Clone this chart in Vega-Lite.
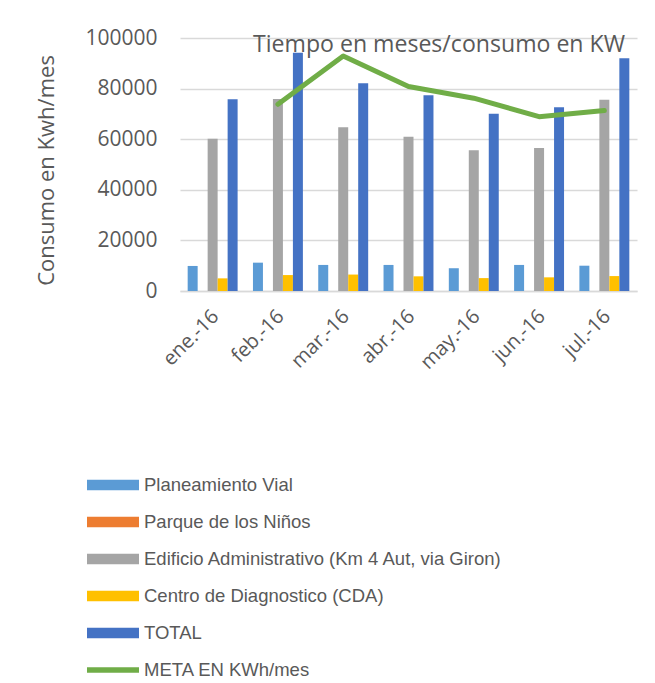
{
  "$schema": "https://vega.github.io/schema/vega-lite/v6.json",
  "autosize": {"type": "none"},
  "width": 457,
  "height": 253,
  "padding": {"left": 180, "top": 38, "right": 18, "bottom": 392},
  "background": "white",
  "config": {"view": {"stroke": null}, "font": "Open Sans"},
  "title": {"text": "Tiempo en meses/consumo en KW", "anchor": "end", "frame": "group", "offset": -30, "dx": -12, "fontSize": 23.1, "font": "Open Sans", "fontWeight": "normal", "color": "#595959"},
  "data": {"values": [
    {"mes": "ene.-16", "serie": "Planeamiento Vial", "valor": 9900},
    {"mes": "ene.-16", "serie": "Parque de los Niños", "valor": 0},
    {"mes": "ene.-16", "serie": "Edificio Administrativo (Km 4 Aut, via Giron)", "valor": 60200},
    {"mes": "ene.-16", "serie": "Centro de Diagnostico (CDA)", "valor": 5000},
    {"mes": "ene.-16", "serie": "TOTAL", "valor": 75800},
    {"mes": "feb.-16", "serie": "Planeamiento Vial", "valor": 11200},
    {"mes": "feb.-16", "serie": "Parque de los Niños", "valor": 0},
    {"mes": "feb.-16", "serie": "Edificio Administrativo (Km 4 Aut, via Giron)", "valor": 75900},
    {"mes": "feb.-16", "serie": "Centro de Diagnostico (CDA)", "valor": 6300},
    {"mes": "feb.-16", "serie": "TOTAL", "valor": 94200},
    {"mes": "mar.-16", "serie": "Planeamiento Vial", "valor": 10300},
    {"mes": "mar.-16", "serie": "Parque de los Niños", "valor": 0},
    {"mes": "mar.-16", "serie": "Edificio Administrativo (Km 4 Aut, via Giron)", "valor": 64700},
    {"mes": "mar.-16", "serie": "Centro de Diagnostico (CDA)", "valor": 6500},
    {"mes": "mar.-16", "serie": "TOTAL", "valor": 82100},
    {"mes": "abr.-16", "serie": "Planeamiento Vial", "valor": 10300},
    {"mes": "abr.-16", "serie": "Parque de los Niños", "valor": 0},
    {"mes": "abr.-16", "serie": "Edificio Administrativo (Km 4 Aut, via Giron)", "valor": 61000},
    {"mes": "abr.-16", "serie": "Centro de Diagnostico (CDA)", "valor": 5800},
    {"mes": "abr.-16", "serie": "TOTAL", "valor": 77400},
    {"mes": "may.-16", "serie": "Planeamiento Vial", "valor": 9000},
    {"mes": "may.-16", "serie": "Parque de los Niños", "valor": 0},
    {"mes": "may.-16", "serie": "Edificio Administrativo (Km 4 Aut, via Giron)", "valor": 55600},
    {"mes": "may.-16", "serie": "Centro de Diagnostico (CDA)", "valor": 5100},
    {"mes": "may.-16", "serie": "TOTAL", "valor": 70100},
    {"mes": "jun.-16", "serie": "Planeamiento Vial", "valor": 10300},
    {"mes": "jun.-16", "serie": "Parque de los Niños", "valor": 0},
    {"mes": "jun.-16", "serie": "Edificio Administrativo (Km 4 Aut, via Giron)", "valor": 56500},
    {"mes": "jun.-16", "serie": "Centro de Diagnostico (CDA)", "valor": 5400},
    {"mes": "jun.-16", "serie": "TOTAL", "valor": 72600},
    {"mes": "jul.-16", "serie": "Planeamiento Vial", "valor": 10000},
    {"mes": "jul.-16", "serie": "Parque de los Niños", "valor": 0},
    {"mes": "jul.-16", "serie": "Edificio Administrativo (Km 4 Aut, via Giron)", "valor": 75600},
    {"mes": "jul.-16", "serie": "Centro de Diagnostico (CDA)", "valor": 5900},
    {"mes": "jul.-16", "serie": "TOTAL", "valor": 92000},
    {"mes": "feb.-16", "serie": "META EN KWh/mes", "valor": 73800},
    {"mes": "mar.-16", "serie": "META EN KWh/mes", "valor": 92900},
    {"mes": "abr.-16", "serie": "META EN KWh/mes", "valor": 80800},
    {"mes": "may.-16", "serie": "META EN KWh/mes", "valor": 76200},
    {"mes": "jun.-16", "serie": "META EN KWh/mes", "valor": 68900},
    {"mes": "jul.-16", "serie": "META EN KWh/mes", "valor": 71300}
  ]},
  "encoding": {
    "x": {"field": "mes", "type": "nominal",
      "sort": ["ene.-16", "feb.-16", "mar.-16", "abr.-16", "may.-16", "jun.-16", "jul.-16"],
      "scale": {"domain": ["ene.-16", "feb.-16", "mar.-16", "abr.-16", "may.-16", "jun.-16", "jul.-16"], "paddingInner": 0.235, "paddingOuter": 0.1175},
      "axis": {"title": null, "labelAngle": -45, "labelAlign": "right", "labelBaseline": "middle", "labelFontSize": 20, "labelColor": "#595959", "labelPadding": 22, "labelOffset": 3, "ticks": false, "domainColor": "#D9D9D9", "domainWidth": 1.3, "labelFont": "Open Sans"}},
    "y": {"field": "valor", "type": "quantitative",
      "scale": {"domain": [0, 100000]},
      "axis": {"title": "Consumo en Kwh/mes", "values": [0, 20000, 40000, 60000, 80000, 100000], "format": "d", "labelFontSize": 21, "labelColor": "#595959", "labelPadding": 23, "ticks": false, "domain": false, "gridColor": "#D9D9D9", "gridWidth": 1.3, "titleFontSize": 22, "titleFontWeight": "normal", "titleColor": "#595959", "titlePadding": 26, "titleY": 132, "labelFont": "Open Sans", "titleFont": "Open Sans"}},
    "color": {"field": "serie", "type": "nominal",
      "scale": {"domain": ["Planeamiento Vial", "Parque de los Niños", "Edificio Administrativo (Km 4 Aut, via Giron)", "Centro de Diagnostico (CDA)", "TOTAL", "META EN KWh/mes"],
        "range": ["#5B9BD5", "#ED7D31", "#A5A5A5", "#FFC000", "#4472C4", "#70AD47"]},
      "legend": {"orient": "none", "legendX": -80, "legendY": 434, "title": null, "direction": "vertical",
        "symbolType": "M-2,-0.4L2,-0.4L2,0.4L-2,0.4Z", "symbolSize": 676, "symbolStrokeWidth": 0, "symbolOpacity": 1,
        "labelOffset": 18, "rowPadding": 14, "labelFont": "Liberation Sans", "labelFontSize": 18.5, "labelColor": "#595959", "labelLimit": 500,
        "encode": {"symbols": {"update": {"shape": {"signal": "datum.label === 'META EN KWh/mes' ? 'M-2,-0.22L2,-0.22L2,0.22L-2,0.22Z' : 'M-2,-0.4L2,-0.4L2,0.4L-2,0.4Z'"}}}}}}
  },
  "layer": [
    {"transform": [{"filter": "datum.serie !== 'META EN KWh/mes'"}],
     "mark": {"type": "bar"},
     "encoding": {"xOffset": {"field": "serie", "type": "nominal", "sort": ["Planeamiento Vial", "Parque de los Niños", "Edificio Administrativo (Km 4 Aut, via Giron)", "Centro de Diagnostico (CDA)", "TOTAL"], "scale": {"paddingInner": 0, "paddingOuter": 0}}}},
    {"transform": [{"filter": "datum.serie === 'META EN KWh/mes'"}],
     "mark": {"type": "line", "strokeWidth": 5, "strokeCap": "round", "strokeJoin": "round"},
     "encoding": {}}
  ]
}
